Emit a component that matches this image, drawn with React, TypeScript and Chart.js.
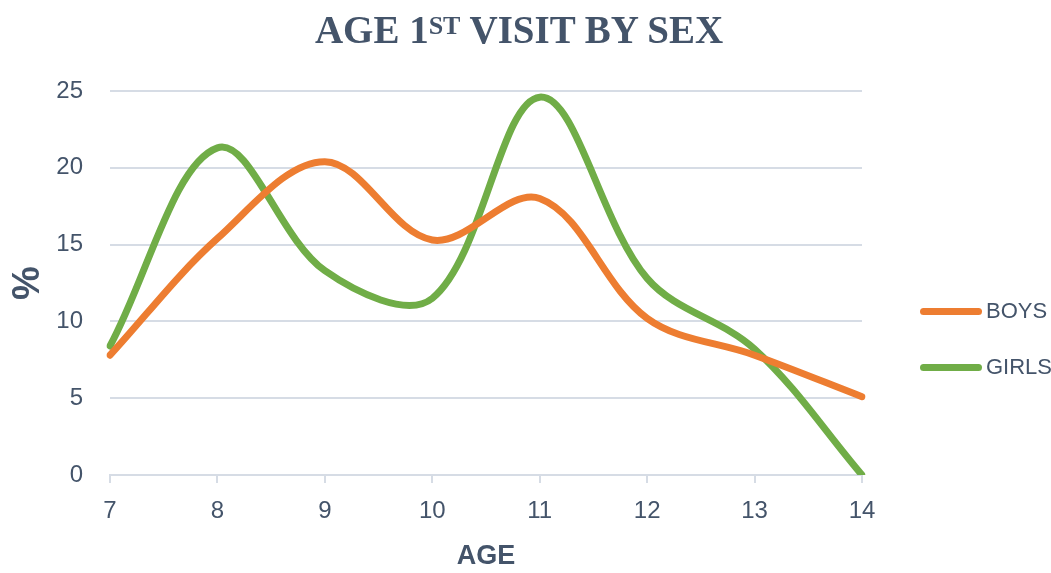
import React, { useEffect, useRef } from "react";
import { Chart, registerables } from "chart.js";

Chart.register(...registerables);

const ages = ["7", "8", "9", "10", "11", "12", "13", "14"];
const boys = [7.8, 15.4, 20.4, 15.3, 18.0, 10.2, 7.8, 5.1];
const girls = [8.4, 21.3, 13.3, 11.5, 24.6, 12.8, 8.2, 0];
const yTicks = [0, 5, 10, 15, 20, 25];

const TEXT = "#44546A";
const GRID = "#D6DCE5";
const ORANGE = "#ED7D31";
const GREEN = "#70AD47";
const SANS = "'Liberation Sans Narrow', 'Liberation Sans', sans-serif";

export default function App() {
  const ref = useRef<HTMLCanvasElement | null>(null);

  useEffect(() => {
    if (!ref.current) return;
    const chart = new Chart(ref.current, {
      type: "line",
      data: {
        labels: ages,
        datasets: [
          {
            label: "BOYS",
            data: boys,
            borderColor: ORANGE,
            backgroundColor: ORANGE,
            borderWidth: 7,
            pointRadius: 0,
            tension: 0.35,
            borderCapStyle: "round",
          },
          {
            label: "GIRLS",
            data: girls,
            borderColor: GREEN,
            backgroundColor: GREEN,
            borderWidth: 7,
            pointRadius: 0,
            tension: 0.35,
            borderCapStyle: "round",
          },
        ],
      },
      options: {
        animation: false,
        responsive: false,
        layout: { padding: { top: 91, right: 189, left: 0, bottom: 0 } },
        plugins: {
          legend: { display: false },
          title: { display: false },
          tooltip: { enabled: false },
        },
        scales: {
          x: {
            offset: false,
            grid: {
              drawOnChartArea: false,
              drawTicks: true,
              tickLength: 8,
              color: GRID,
              lineWidth: 2,
            },
            border: { display: true, color: GRID, width: 2 },
            ticks: {
              color: TEXT,
              font: { family: SANS, size: 24 },
              padding: 14,
              maxRotation: 0,
            },
            title: {
              display: true,
              text: "AGE",
              color: TEXT,
              font: { family: SANS, size: 27, weight: "bold" },
              padding: { top: 0, bottom: 0 },
            },
            afterFit: (s: any) => {
              s.height = 98;
            },
          },
          y: {
            min: 0,
            max: 25,
            afterBuildTicks: (s: any) => {
              s.ticks = yTicks.map((v) => ({ value: v }));
            },
            grid: {
              drawTicks: false,
              color: GRID,
              lineWidth: 2,
            },
            border: { display: false },
            ticks: {
              color: TEXT,
              font: { family: SANS, size: 24 },
              padding: 27,
            },
            title: {
              display: true,
              text: "%",
              color: TEXT,
              font: { family: SANS, size: 38, weight: "bold" },
              padding: { top: 6, bottom: 0 },
            },
            afterFit: (s: any) => {
              s.width = 110;
            },
          },
        },
      },
    });
    return () => chart.destroy();
  }, []);

  const legendItems = [
    { label: "BOYS", color: ORANGE, y: 311 },
    { label: "GIRLS", color: GREEN, y: 367 },
  ];

  return (
    <div
      style={{
        position: "absolute",
        left: 0,
        top: 0,
        width: 1051,
        height: 573,
        background: "#fff",
        overflow: "hidden",
      }}
    >
      <canvas ref={ref} width={1051} height={573} style={{ position: "absolute", left: 0, top: 0 }} />
      <div
        style={{
          position: "absolute",
          left: 0,
          width: 1038,
          top: 7,
          textAlign: "center",
          fontFamily: "'Liberation Serif', serif",
          fontWeight: "bold",
          fontSize: 39,
          color: TEXT,
          lineHeight: "46px",
          whiteSpace: "nowrap",
        }}
      >
        AGE 1<sup style={{ fontSize: 26, verticalAlign: "top", position: "relative", top: -4 }}>ST</sup> VISIT BY SEX
      </div>
      {legendItems.map((it) => (
        <div key={it.label}>
          <div
            style={{
              position: "absolute",
              left: 920,
              top: it.y - 3,
              width: 62,
              height: 7,
              borderRadius: 3.5,
              background: it.color,
            }}
          />
          <div
            style={{
              position: "absolute",
              left: 986,
              top: it.y - 14,
              fontFamily: SANS,
              fontSize: 22,
              lineHeight: "28px",
              color: TEXT,
            }}
          >
            {it.label}
          </div>
        </div>
      ))}
    </div>
  );
}
